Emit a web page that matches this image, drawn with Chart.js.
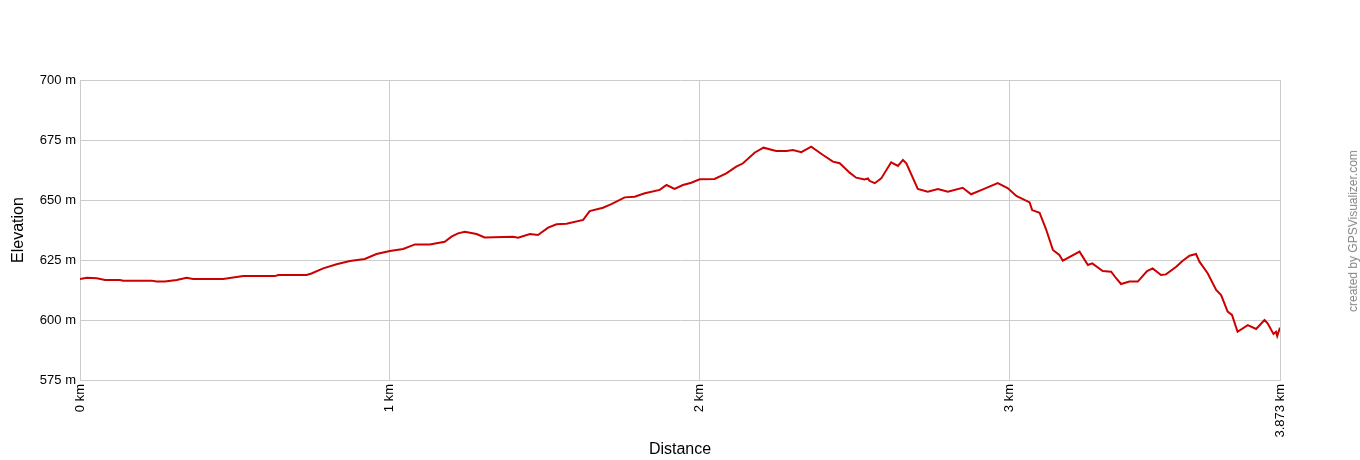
<!DOCTYPE html>
<html>
<head>
<meta charset="utf-8">
<script src="https://cdn.jsdelivr.net/npm/chart.js@4"></script>
<style>
  html, body { margin: 0; padding: 0; background: #fff; }
  #wrap { position: relative; width: 1360px; height: 460px; }
  #credit {
    position: absolute; left: 1353px; top: 231px;
    transform: translate(-50%, -50%) rotate(-90deg);
    font: 12px "Liberation Sans", Arial, sans-serif; color: #888;
    white-space: nowrap;
  }
</style>
</head>
<body>
<div id="wrap">
  <canvas id="c" width="1360" height="460"></canvas>
  <div id="credit">created by GPSVisualizer.com</div>
</div>
<script>
const distKm = [0, 0.022, 0.054, 0.081, 0.129, 0.139, 0.231, 0.247, 0.274, 0.312, 0.344, 0.365, 0.462, 0.505, 0.527, 0.629, 0.640, 0.731, 0.747, 0.785, 0.828, 0.871, 0.919, 0.957, 1.000, 1.043, 1.081, 1.129, 1.177, 1.199, 1.220, 1.242, 1.280, 1.306, 1.398, 1.414, 1.452, 1.478, 1.511, 1.538, 1.570, 1.624, 1.645, 1.688, 1.715, 1.758, 1.790, 1.823, 1.871, 1.893, 1.919, 1.946, 1.973, 2.000, 2.048, 2.086, 2.118, 2.140, 2.177, 2.206, 2.247, 2.280, 2.301, 2.328, 2.360, 2.398, 2.430, 2.452, 2.484, 2.505, 2.532, 2.543, 2.548, 2.565, 2.586, 2.618, 2.640, 2.656, 2.667, 2.704, 2.736, 2.769, 2.801, 2.849, 2.876, 2.914, 2.962, 2.995, 3.022, 3.065, 3.073, 3.097, 3.118, 3.140, 3.161, 3.172, 3.226, 3.253, 3.267, 3.301, 3.328, 3.344, 3.360, 3.387, 3.414, 3.444, 3.462, 3.489, 3.505, 3.538, 3.559, 3.581, 3.602, 3.613, 3.640, 3.667, 3.683, 3.704, 3.718, 3.736, 3.769, 3.796, 3.823, 3.833, 3.852, 3.860, 3.864, 3.873];
const elevM = [617.1, 617.6, 617.4, 616.7, 616.7, 616.4, 616.4, 616.0, 616.0, 616.7, 617.6, 617.1, 617.1, 617.9, 618.3, 618.3, 618.75, 618.75, 619.4, 621.5, 623.2, 624.6, 625.4, 627.5, 628.75, 629.6, 631.5, 631.5, 632.6, 634.7, 636.1, 636.8, 635.8, 634.4, 634.7, 634.3, 635.8, 635.4, 638.5, 639.9, 640.1, 641.7, 645.4, 646.8, 648.3, 651.1, 651.4, 652.8, 654.2, 656.25, 654.6, 656.25, 657.2, 658.6, 658.75, 661.1, 663.9, 665.3, 669.7, 671.8, 670.4, 670.4, 670.8, 669.9, 672.2, 668.75, 666.0, 665.3, 661.4, 659.3, 658.6, 659.0, 658.0, 657.0, 659.0, 665.7, 664.2, 666.7, 665.3, 654.6, 653.5, 654.6, 653.5, 655.1, 652.4, 654.4, 657.0, 654.9, 651.7, 649.0, 645.8, 644.7, 637.8, 629.2, 627.1, 624.7, 628.5, 622.9, 623.6, 620.4, 620.1, 617.4, 615.0, 616.0, 616.0, 620.4, 621.5, 618.75, 619.0, 622.2, 624.7, 626.8, 627.5, 624.3, 619.4, 612.5, 610.4, 603.5, 602.1, 595.1, 597.9, 596.25, 600.0, 598.6, 594.2, 595.1, 593.3, 596.8];
const xTickValues = [0, 1, 2, 3, 3.873];
const yMin = 575, yMax = 700, yStep = 25;

const FONT = '"Liberation Sans", Arial, sans-serif';
const GRID = '#cccccc';

new Chart(document.getElementById('c'), {
  type: 'line',
  data: {
    datasets: [{
      data: distKm.map((d, i) => ({ x: d, y: elevM[i] })),
      borderColor: '#cc0000',
      borderWidth: 2,
      pointRadius: 0,
      tension: 0,
      fill: false
    }]
  },
  options: {
    responsive: false,
    animation: false,
    layout: { padding: { top: 80, right: 80, left: 0, bottom: 0 } },
    plugins: { legend: { display: false }, tooltip: { enabled: false } },
    scales: {
      x: {
        type: 'linear',
        min: 0,
        max: xTickValues[xTickValues.length - 1],
        afterBuildTicks: s => { s.ticks = xTickValues.map(v => ({ value: v })); },
        afterFit: s => { s.height = 80; },
        grid: { color: GRID, drawTicks: false },
        border: { color: GRID },
        ticks: {
          autoSkip: false, minRotation: 90, maxRotation: 90, padding: 4,
          color: '#000', font: { family: FONT, size: 13 },
          callback: v => v + ' km'
        },
        title: { display: true, text: 'Distance', color: '#000', font: { family: FONT, size: 16 }, padding: { top: 0, bottom: 1 } }
      },
      y: {
        min: yMin, max: yMax,
        afterFit: s => { s.width = 80; },
        grid: { color: GRID, drawTicks: false },
        border: { color: GRID },
        ticks: {
          stepSize: yStep, padding: 4,
          color: '#000', font: { family: FONT, size: 13 },
          callback: v => v + ' m'
        },
        title: { display: true, text: 'Elevation', color: '#000', font: { family: FONT, size: 16 }, padding: { top: 9, bottom: 0 } }
      }
    }
  }
});
</script>
</body>
</html>
